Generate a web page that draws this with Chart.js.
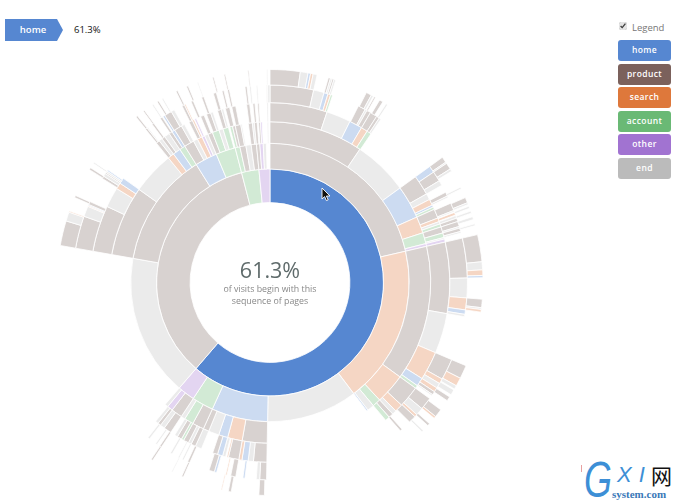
<!DOCTYPE html>
<html>
<head>
<meta charset="utf-8">
<title>Sequences sunburst</title>
<script src="https://cdn.jsdelivr.net/npm/chart.js@4/dist/chart.umd.min.js"></script>
<style>
  html, body { margin: 0; padding: 0; background: #fff; }
  body { width: 680px; height: 502px; position: relative; overflow: hidden; font-family: "Open Sans", sans-serif; }
  #sun { position: absolute; left: 55px; top: 67px; width: 430px; height: 431px; }
  .crumb { position: absolute; left: 5px; top: 19px; width: 58px; height: 22px; background: #5687d1; color: #fff;
    font-size: 9.5px; font-weight: 600; line-height: 22px; text-align: center; text-indent: -2px;
    clip-path: polygon(0 0, 52px 0, 58px 11px, 52px 22px, 0 22px); }
  .crumbPct { position: absolute; left: 74px; top: 23px; font-size: 9.5px; line-height: 14px; color: #111; }
  .legendToggle { position: absolute; left: 619px; top: 22px; width: 8px; height: 8px; margin: 0; accent-color: #e4e4e4; }
  .legendLabel { position: absolute; left: 632px; top: 20.5px; font-size: 9.5px; line-height: 14px; color: #777; }
  #legend { position: absolute; left: 618px; top: 40px; width: 53px; }
  #legend div { height: 21px; margin-bottom: 2.5px; border-radius: 3px; color: #fff; font-size: 8.5px; font-weight: 600;
    line-height: 20px; text-align: center; letter-spacing: .4px; }
  .center { position: absolute; left: 190px; width: 160px; text-align: center; }
  .pct { top: 255px; font-size: 21.5px; line-height: 30px; color: #5f6b6b; }
  .sub { top: 283px; font-size: 8.8px; line-height: 12px; color: #888; }
  .mark { position: absolute; font-family: "Liberation Sans", sans-serif; font-style: italic; color: #3d8fd6; }
</style>
</head>
<body>
<div class="crumb">home</div>
<div class="crumbPct">61.3%</div>
<input class="legendToggle" type="checkbox" checked>
<div class="legendLabel">Legend</div>
<div id="legend"></div>

<canvas id="sun" width="430" height="431"></canvas>

<div class="center pct">61.3%</div>
<div class="center sub">of visits begin with this<br>sequence of pages</div>

<svg style="position:absolute;left:321px;top:187px" width="11" height="15" viewBox="0 0 11 15">
  <path d="M1 1 L1 12 L3.6 9.6 L5.4 13.6 L7.2 12.8 L5.4 9 L9 9 Z" fill="#111" stroke="#fff" stroke-width="0.9"/>
</svg>

<div style="position:absolute;left:581px;top:465px;width:1px;height:7px;background:#e8a0a0"></div>
<div class="mark" style="left:584px;top:455px;font-size:50px;line-height:50px;transform:scaleX(.72);transform-origin:left">G</div>
<div class="mark" style="left:617px;top:461px;font-size:22px;line-height:28px;letter-spacing:7px">XI</div>
<div style="position:absolute;left:651px;top:462px;font-family:'Noto Sans CJK SC';font-size:21px;line-height:26px;color:#111">网</div>
<div style="position:absolute;left:612px;top:488px;font-family:'Liberation Serif',serif;font-weight:bold;font-size:11px;line-height:12px;color:#3a78b8">system.com</div>

<script>
/* Legend names */
const PAGE_NAMES = ['home', 'product', 'search', 'account', 'other', 'end'];
const PAGE_KEYS = ['H', 'P', 'S', 'A', 'O', 'E'];
const PAGE_COLORS = ['#5687d1', '#7b615c', '#de783b', '#6ab975', '#a173d1', '#bbbbbb'];
const PAGE_FADED = ['#ccdbf1', '#d8d2d0', '#f5d6c4', '#d2ead5', '#e3d5f1', '#ebebeb'];

/* Each ring: the page of every arc and where that arc ends, in degrees clockwise from 12 o'clock. '-' is empty space. */
const ring1Pages = ['H', 'P', 'A', 'O'];
const ring1Ends = [220.7, 345.5, 354.4, 360];

const ring2Pages = ['P','S','E','H','A','O','E','P','H','A','A','P','E','P','P','O','E','-'];
const ring2Ends = [77,143,181,204.5,213.5,220.7,280,328,337.3,345.5,347.5,350,352.2,354.4,355.8,357.2,358.5,360];

const ring3Pages = ['P','E','H','S','A','O','P','S','A','E','H',
  '-','P','S','H','E','P','P','A','E','P','O','E',
  '-','P','E','S','H','A','P','E','S','O','E','P','A','E','A','-',
  'A','P','P','E','-','P','E','P','-','P','O','-','E','-'];
const ring3Ends = [34,54,66,72,76,77,126,137,140,142.5,143,
  181,190,195.3,198.6,202.4,204.5,208.7,212,213.5,217.5,219.5,220.7,
  280,305.4,320.8,323.1,325.9,328,331.6,333.2,335,336,337.3,339,341.5,343,345,345.5,
  346.5,347.5,349.5,350,352.2,353.7,354.4,355.4,355.9,356.6,357.2,359,359.5,360];

const ring4Pages = ['P','E','H','S','A','-',
  'P','E','S','H','A','P','S','E','A','P','A','E','O',
  'P','E','S','H','A','P','S','E','P','A',
  '-','P','E','H','S','P','S','-','E','H','P','-','E',
  'P','E','P','A','P','E','-','P','E','P','E',
  '-','P','E','S','H',
  '-','P','E','P','E','P','H','P','E','-','P','S','-','O','-','P','-','P','E','-','P','E','-','P','-','P','-','P','-','P','-','P','-','E','-'];
const ring4Ends = [18.5,26.4,30.6,32.7,34.2,54,
  60.5,62.5,64.5,65.2,66,69,70.2,71,72,74,75.5,76,77,
  100,113,122.3,125,126,133,135.6,137,138.5,140,
  181,185.3,187,189,190,193.4,193.9,194.3,195.3,197,198.6,202.4,204.5,
  206,207,208.7,209.5,211,212,213.5,216,217.5,218.5,219.5,
  280,295,301.5,303.5,305.4,
  320.8,322,323.1,324.2,325.9,327,328,330.5,331.6,333.2,334.4,335,335.2,335.8,337.3,338.5,339.3,340.7,341.5,343,344.3,345,345.6,347,347.7,349,352.5,353.5,354.5,355.2,356,356.5,359,359.5,360];

const ring5Pages = ['P','E','H','S','A','-','P','E','P','P','P','E','-',
  'H','P','E','-','P','E','-','P','E','-','S','-','E','P','P','E','P','E','-',
  'P','E','S','H','E','-','P','S','E','S','P','E','-','P','E','S','P','-','P','-',
  'P','E','-','H','-','P','-','S','-','H','P',
  '-','P','-','E','-','E','-','E','-','P','-','E','-','E','-',
  'P','E','S','H','P','-','P','E','P','E','H',
  '-','P','E','-','P','-','P','-','H','P','E','-','P','S','-','P','-','P','-','P','-','P','-','P','-','P','-','E','-','E','-'];
const ring5Ends = [12.8,15.9,17.1,17.9,18.5,26.6,28.8,29.4,30.6,32.7,33.6,34.2,54,
  56,59,60.5,62.8,64,64.5,66.3,68.6,69,69.2,70,70.2,71,72,73.5,74,75,75.5,77,
  88.7,94.5,98,99.3,100,113,119.3,120.8,122.3,123.6,124.6,125,126,129.7,132,132.8,135,138,138.7,181,
  183,184,187.3,187.9,190,191.5,192.6,193,195.7,196.4,198,
  204,204.7,205.9,206.4,207.3,207.7,209.7,210.3,213.4,214,214.9,215.4,217.6,218.2,280,
  289.6,292.7,293,293.3,294.2,301.8,302.6,303.5,303.9,304.4,304.8,
  320.9,321.5,321.8,323.3,323.9,326.2,326.9,327.2,327.8,330,331,333.5,334.3,334.7,336.4,337.1,339.7,340.4,343.3,344.2,345.9,346.5,347.5,348.1,352.7,353.3,354,354.5,356,356.4,359,359.3,360];

const ring6Pages = ['P','E','H','S','E','-','P','E','P','E','-','P','E','-','P','-','P','-','E','-',
  'P','E','P','E','-','E','-','P','E','-','E','-','E','-','E','-','E','-',
  'P','E','S','H','-','P','E','S','-','P','S','E','-','E','-','P','-','P','S','-','P','-','E','-',
  'P','-','P','-','S','-','P','-','E','-','P','-',
  'P','E','S','-','P','-','P','-','E','-','P','-','P','-','E','-','P','-','E','-','P','-','P','-','E','-','P','-','P','-','P','-','E','-'];
const ring6Ends = [8.2,10.3,11,11.7,12.8,15.9,16.5,17,17.5,18,26.9,28.4,29,29.3,29.7,31,32,33,33.5,54,
  55.6,56,57.8,58.5,63.4,63.9,66.5,68,68.5,69,69.6,70.4,71,72,72.8,74,74.5,77,
  84.4,86.6,88.1,88.7,94.5,96.8,97.3,98,113,116.7,119,120,120.3,121.8,122.5,123.7,126.7,129,129.6,131.5,132.2,134,134.5,181.5,
  183,190.5,191.3,193,193.3,204,204.5,207.2,207.5,213.4,213.9,280,
  286.8,289.3,289.6,293.5,294.1,302,302.6,304,304.4,321,321.5,323.5,323.9,326.4,326.8,328,328.5,329.5,329.9,333.8,334.3,336.9,337.4,340,340.3,344.3,344.7,347.5,347.9,354,354.3,359.1,359.4,360];

/* Radii of the ring edges, px: hole, then the outside of each ring */
const RING_EDGES = [80.5, 114, 139.5, 161, 180, 197.5, 213];

const allRings = [
  [ring1Pages, ring1Ends], [ring2Pages, ring2Ends], [ring3Pages, ring3Ends],
  [ring4Pages, ring4Ends], [ring5Pages, ring5Ends], [ring6Pages, ring6Ends],
];

function arcColor(page, ringIdx) {
  const k = PAGE_KEYS.indexOf(page);
  if (k < 0) return 'rgba(0,0,0,0)';
  // only the hovered "home" arc keeps its full colour
  return (ringIdx === 0 && page === 'H') ? PAGE_COLORS[k] : PAGE_FADED[k];
}

/* Chart.js draws dataset 0 on the outside, so go from the last ring inward */
const datasets = allRings.map(([pages, ends], r) => ({
  data: ends.map((e, i) => e - (i ? ends[i - 1] : 0)),
  backgroundColor: pages.map((p) => arcColor(p, r)),
  borderColor: pages.map((p) => p === '-' ? 'rgba(0,0,0,0)' : '#fff'),
  borderWidth: 0.8,
  weight: RING_EDGES[r + 1] - RING_EDGES[r],
})).reverse();

new Chart(document.getElementById('sun'), {
  type: 'doughnut',
  data: { labels: ring6Pages, datasets },
  options: {
    responsive: false,
    animation: false,
    events: [],
    radius: RING_EDGES[6],
    cutout: RING_EDGES[0],
    plugins: { legend: { display: false }, tooltip: { enabled: false } },
  },
});

document.getElementById('legend').innerHTML = PAGE_NAMES.map((n, i) =>
  `<div style="background:${PAGE_COLORS[i]}">${n}</div>`).join('');
</script>
</body>
</html>
